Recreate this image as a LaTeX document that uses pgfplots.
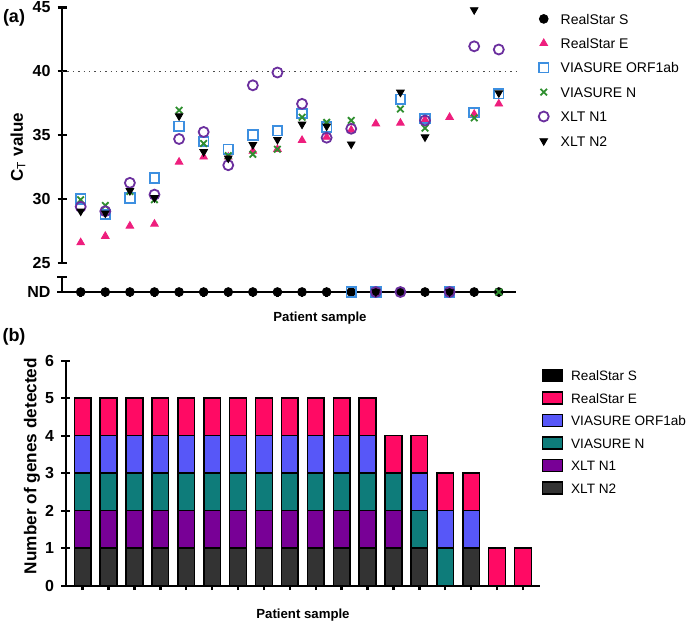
\documentclass[border=0pt]{standalone}
\usepackage{fontspec}
\setmainfont{Liberation Sans}
\usepackage{pgfplots}
\pgfplotsset{compat=1.18}
\definecolor{cE}{HTML}{EE1E7D}
\definecolor{cO}{HTML}{3D8FE0}
\definecolor{cN}{HTML}{2F8F2F}
\definecolor{cNa}{HTML}{6B2F9E}
\definecolor{bE}{HTML}{FF0A64}
\definecolor{bO}{HTML}{5757F8}
\definecolor{bN}{HTML}{0E7C7A}
\definecolor{bNa}{HTML}{780096}
\definecolor{bNb}{HTML}{333333}

\pgfplotsset{
  gp/.style={scale only axis,clip=false,
    major tick style={line width=1.2pt,black},
    tick align=outside,major tick length=4.5pt,
    ticklabel style={font=\bfseries\fontsize{8}{9}\selectfont},
    /pgf/number format/assume math mode=true},
  nolines/.style={axis line style={line width=1.2pt,-}},
  sS/.style={only marks,mark=*,mark size=2.2pt,black},
  sE/.style={only marks,mark=triangle*,mark size=2.2pt,cE},
  sO/.style={only marks,mark=square,mark size=2.4pt,cO,mark options={line width=0.9pt}},
  sN/.style={only marks,mark=x,mark size=2.3pt,cN,mark options={line width=0.9pt}},
  sNa/.style={only marks,mark=o,mark size=2.5pt,cNa,mark options={line width=0.9pt}},
  sNb/.style={only marks,mark=triangle*,mark size=2.2pt,black,mark options={rotate=180}},
  bsty/.style={fill=#1,draw=black,line width=0.75pt,
    legend image code/.code={\draw[##1] (0pt,-3pt) rectangle (10pt,3pt);}},
}

\begin{document}
\begin{tikzpicture}
\path[use as bounding box] (0,0) rectangle (344.5pt,-311.5pt);

% (a) Ct values
\begin{axis}[gp,at={(31pt,-131.5pt)},anchor=south west,width=227pt,height=127.85pt,
  axis x line=none,axis y line=left,nolines,
  xmin=-0.76,xmax=17.7,ymin=25,ymax=45,
  ytick={30,35,40,45},extra y ticks={25},
  extra y tick style={tick align=center},
  legend cell align=left,
  legend style={at={(1.036,1.0)},anchor=north west,draw=none,fill=none,
    font=\fontsize{7}{8}\selectfont,row sep=5pt,
    /tikz/every odd column/.append style={column sep=5pt},
    nodes={inner sep=1pt,text height=5.2pt,text depth=0pt}}]
  \addplot[forget plot,black!70,dotted,line width=0.7pt] coordinates {(-0.76,40) (17.7,40)};
  \addlegendimage{sS}\addlegendentry{RealStar S}
  \addplot[sE] coordinates {(0,26.6) (1,27.1) (2,27.9) (3,28.05) (4,32.9) (5,33.3) (6,33.3)
    (7,33.75) (8,33.9) (9,34.6) (10,34.85) (11,35.4) (12,35.9) (13,35.95) (14,36.2)
    (15,36.4) (16,36.65) (17,37.45)};
  \addlegendentry{RealStar E}
  \addplot[sO] coordinates {(0,30.0) (1,28.8) (2,30.1) (3,31.65) (4,35.7) (5,34.5) (6,33.9)
    (7,35.0) (8,35.35) (9,36.7) (10,35.65) (13,37.8) (14,36.3) (16,36.75) (17,38.25)};
  \addlegendentry{VIASURE ORF1ab}
  \addplot[sN] coordinates {(0,29.95) (1,29.5) (2,30.6) (3,29.95) (4,36.95) (5,34.35) (6,33.4)
    (7,33.5) (8,33.9) (9,36.4) (10,36.0) (11,36.15) (13,37.05) (14,35.55) (16,36.35)};
  \addlegendentry{VIASURE N}
  \addplot[sNa] coordinates {(0,29.4) (1,29.05) (2,31.27) (3,30.35) (4,34.7) (5,35.25) (6,32.65)
    (7,38.9) (8,39.9) (9,37.45) (10,34.8) (11,35.5) (14,36.15) (16,41.95) (17,41.7)};
  \addlegendentry{XLT N1}
  \addplot[sNb] coordinates {(0,29.05) (1,28.9) (2,30.65) (3,30.1) (4,36.5) (5,33.7) (6,33.2)
    (7,34.25) (8,34.65) (9,35.85) (10,35.7) (11,34.3) (13,38.35) (14,34.85) (16,44.8) (17,38.3)};
  \addlegendentry{XLT N2}
\end{axis}

% (a) not detected row
\begin{axis}[gp,at={(31pt,-146pt)},anchor=south west,width=227pt,height=7.5pt,
  axis x line=bottom,axis y line=left,nolines,
  xmin=-0.76,xmax=17.7,ymin=0,ymax=1,
  xtick={0,...,17},xticklabels={},
  ytick={0},yticklabels={ND},
  extra y ticks={1},extra y tick labels={},extra y tick style={tick align=center}]
  \addplot[sS] coordinates {(0,0) (1,0) (2,0) (3,0) (4,0) (5,0) (6,0) (7,0) (8,0) (9,0)
    (10,0) (11,0) (12,0) (13,0) (14,0) (15,0) (16,0) (17,0)};
  \addplot[sO] coordinates {(11,0) (12,0) (15,0)};
  \addplot[sN] coordinates {(17,0)};
  \addplot[sNa] coordinates {(12,0) (13,0) (15,0)};
  \addplot[sNb] coordinates {(12,0) (15,0)};
\end{axis}

% (b) genes detected
\begin{axis}[gp,at={(32.85pt,-292.85pt)},anchor=south west,width=237.15pt,height=112.5pt,
  axis lines=left,nolines,ybar stacked,bar width=8.35pt,
  xmin=-0.656,xmax=17.66,ymin=0,ymax=6,
  xtick={0,...,17},xticklabels={},ytick={0,...,6},
  reverse legend,legend cell align=left,
  legend style={at={(0.99,0.985)},anchor=north west,draw=none,fill=none,
    font=\fontsize{6.8}{8}\selectfont,row sep=4.05pt,
    /tikz/every odd column/.append style={column sep=3pt},
    nodes={inner sep=1pt,text height=5.2pt,text depth=0pt}}]
  \addplot[bsty=bNb] coordinates {(0,1) (1,1) (2,1) (3,1) (4,1) (5,1) (6,1) (7,1) (8,1) (9,1)
    (10,1) (11,1) (12,1) (13,1) (14,0) (15,1) (16,0) (17,0)};
  \addlegendentry{XLT N2}
  \addplot[bsty=bNa] coordinates {(0,1) (1,1) (2,1) (3,1) (4,1) (5,1) (6,1) (7,1) (8,1) (9,1)
    (10,1) (11,1) (12,1) (13,0) (14,0) (15,0) (16,0) (17,0)};
  \addlegendentry{XLT N1}
  \addplot[bsty=bN] coordinates {(0,1) (1,1) (2,1) (3,1) (4,1) (5,1) (6,1) (7,1) (8,1) (9,1)
    (10,1) (11,1) (12,1) (13,1) (14,1) (15,0) (16,0) (17,0)};
  \addlegendentry{VIASURE N}
  \addplot[bsty=bO] coordinates {(0,1) (1,1) (2,1) (3,1) (4,1) (5,1) (6,1) (7,1) (8,1) (9,1)
    (10,1) (11,1) (12,0) (13,1) (14,1) (15,1) (16,0) (17,0)};
  \addlegendentry{VIASURE ORF1ab}
  \addplot[bsty=bE] coordinates {(0,1) (1,1) (2,1) (3,1) (4,1) (5,1) (6,1) (7,1) (8,1) (9,1)
    (10,1) (11,1) (12,1) (13,1) (14,1) (15,1) (16,1) (17,1)};
  \addlegendentry{RealStar E}
  \addplot[bsty=black] coordinates {(0,0) (1,0) (2,0) (3,0) (4,0) (5,0) (6,0) (7,0) (8,0) (9,0)
    (10,0) (11,0) (12,0) (13,0) (14,0) (15,0) (16,0) (17,0)};
  \addlegendentry{RealStar S}
\end{axis}

\node[font=\bfseries\fontsize{9}{10}\selectfont] at (7pt,-9pt) {(a)};
\node[font=\bfseries\fontsize{9}{10}\selectfont] at (7pt,-168.5pt) {(b)};
\node[font=\bfseries\fontsize{8.5}{10}\selectfont,rotate=90] at (9pt,-73.5pt) {C$_{\mathrm{T}}$ value};
\node[font=\bfseries\fontsize{8.6}{10}\selectfont,rotate=90] at (16pt,-233pt) {Number of genes detected};
\node[font=\bfseries\fontsize{6.6}{8}\selectfont] at (160pt,-159pt) {Patient sample};
\node[font=\bfseries\fontsize{6.6}{8}\selectfont] at (151.5pt,-307.5pt) {Patient sample};
\end{tikzpicture}
\end{document}
